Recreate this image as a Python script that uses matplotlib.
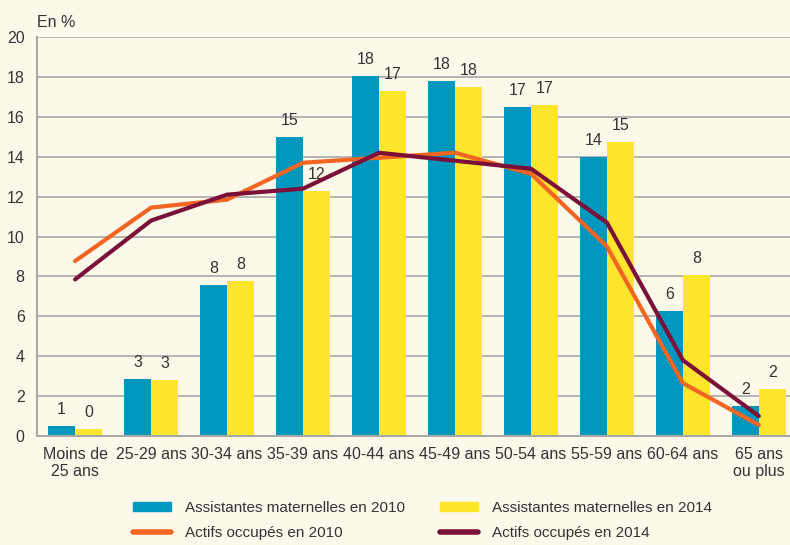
import numpy as np
import matplotlib.pyplot as plt
from matplotlib.lines import Line2D
from matplotlib.patches import Patch

categories = ["Moins de\n25 ans", "25-29 ans", "30-34 ans", "35-39 ans", "40-44 ans",
              "45-49 ans", "50-54 ans", "55-59 ans", "60-64 ans", "65 ans\nou plus"]
am_2010 = [0.5, 2.86, 7.57, 15.0, 18.05, 17.8, 16.5, 14.0, 6.27, 1.5]
am_2014 = [0.35, 2.8, 7.75, 12.3, 17.3, 17.5, 16.6, 14.75, 8.05, 2.35]
lbl_2010 = ["1", "3", "8", "15", "18", "18", "17", "14", "6", "2"]
lbl_2014 = ["0", "3", "8", "12", "17", "18", "17", "15", "8", "2"]
actifs_2010 = [8.77, 11.45, 11.85, 13.7, 13.95, 14.2, 13.15, 9.5, 2.65, 0.55]
actifs_2014 = [7.85, 10.8, 12.1, 12.4, 14.2, 13.8, 13.4, 10.7, 3.8, 1.0]

bg = "#fdf9ea"
blue = "#0096bd"
yellow = "#ffe52d"
orange = "#f26522"
maroon = "#7b1138"
txt = "#333333"

plt.rcParams['font.family'] = ['Liberation Sans', 'DejaVu Sans']
fs = 11.5

fig = plt.figure(figsize=(7.9, 5.45), dpi=100, facecolor=bg)
ax = fig.add_axes([0.047, 0.2, 0.953, 0.732], facecolor=bg)

x = np.arange(len(categories))
w = 0.355
ax.bar(x - w / 2, am_2010, w, color=blue, zorder=2)
ax.bar(x + w / 2, am_2014, w, color=yellow, zorder=2)
ax.plot(x, actifs_2010, color=orange, lw=3, zorder=3, solid_capstyle='round')
ax.plot(x, actifs_2014, color=maroon, lw=3, zorder=4, solid_capstyle='round')

for i in range(len(x)):
    ax.text(x[i] - w / 2, am_2010[i] + 0.45, lbl_2010[i], ha='center', va='bottom', fontsize=fs, color=txt)
    ax.text(x[i] + w / 2, am_2014[i] + 0.45, lbl_2014[i], ha='center', va='bottom', fontsize=fs, color=txt)

ax.set_ylim(0, 20)
ax.set_xlim(-0.5, 9.41)
ax.set_yticks(range(0, 21, 2))
ax.set_xticks(x)
ax.set_xticklabels(categories, fontsize=fs, color=txt, linespacing=1.15)
ax.tick_params(axis='y', labelsize=fs, labelcolor=txt, length=0, pad=9)
ax.tick_params(axis='x', length=0, pad=8)
ax.yaxis.grid(True, color="#a8a8a8", lw=1.2, zorder=0)
ax.set_axisbelow(True)
for s in ['top', 'right']:
    ax.spines[s].set_visible(False)
ax.spines['left'].set_color("#a8a8a8")
ax.spines['bottom'].set_color("#a8a8a8")
ax.spines['left'].set_linewidth(1.5)
ax.spines['bottom'].set_linewidth(1.5)

fig.text(0.047, 0.958, "En %", fontsize=fs, color=txt, ha='left', va='center')

handles = [Patch(color=blue), Patch(color=yellow),
           Line2D([], [], color=orange, lw=4, solid_capstyle='round'),
           Line2D([], [], color=maroon, lw=4, solid_capstyle='round')]
labels = ["Assistantes maternelles en 2010", "Assistantes maternelles en 2014",
          "Actifs occupés en 2010", "Actifs occupés en 2014"]
# two columns, filled column by column
order = [0, 2, 1, 3]
fig.legend([handles[i] for i in order], [labels[i] for i in order], ncol=2,
           loc='center', bbox_to_anchor=(0.535, 0.045), frameon=False, fontsize=11,
           handlelength=2.5, handleheight=0.6, columnspacing=2.3, labelcolor=txt,
           handletextpad=0.9, labelspacing=0.75)

fig.savefig("out.png", dpi=100, facecolor=bg)
